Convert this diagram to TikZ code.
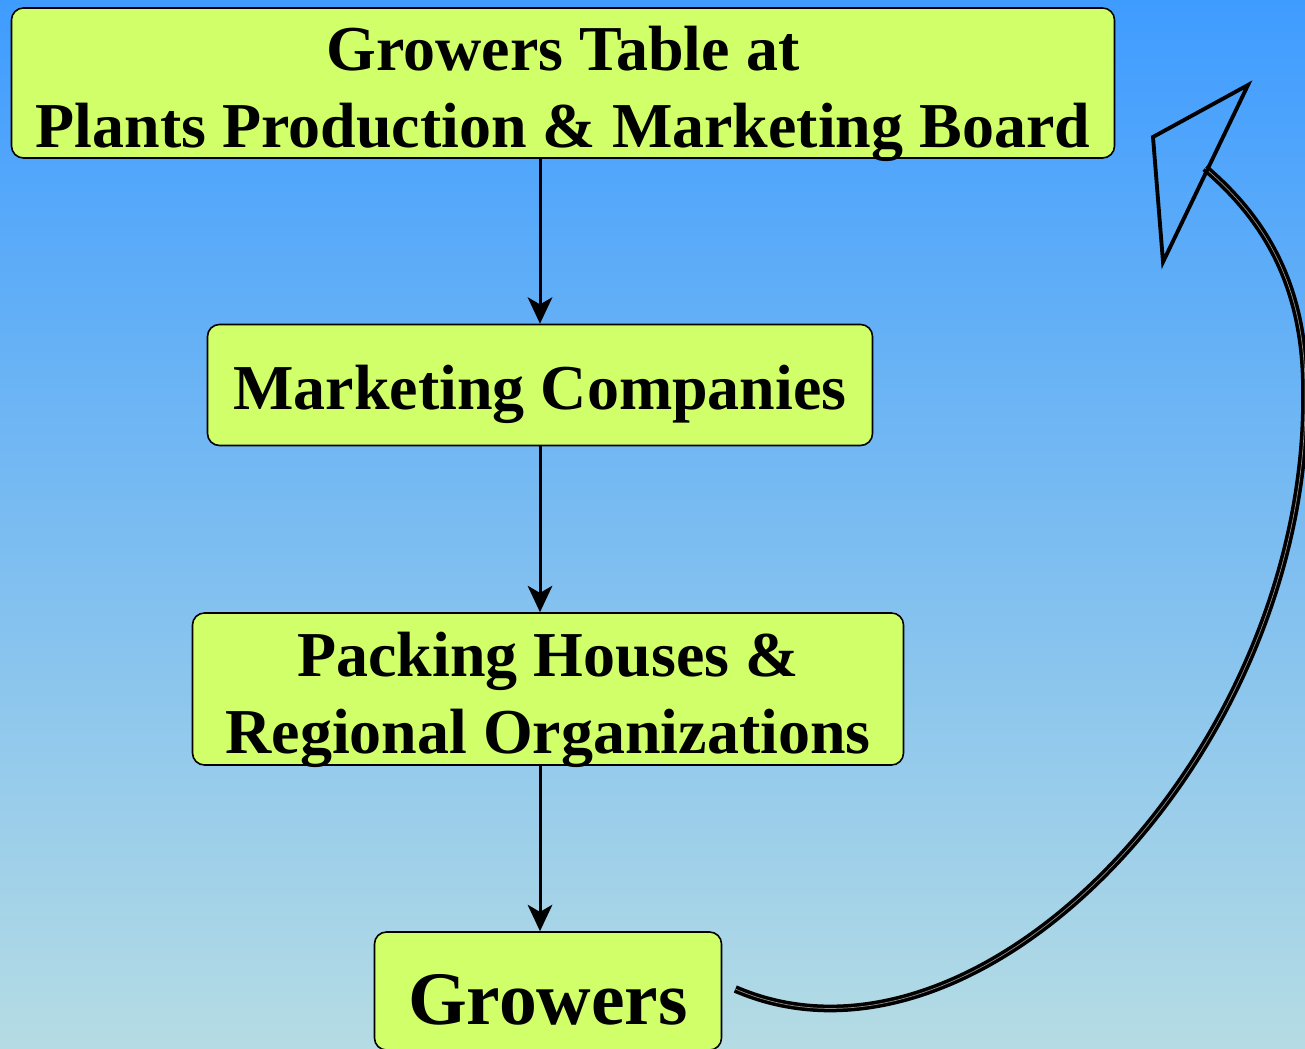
\documentclass[tikz,border=0pt]{standalone}
\usepackage{fontspec}
\setmainfont{Liberation Serif}
\usepackage{tikz}
\usetikzlibrary{arrows.meta, shapes.geometric}
\definecolor{bgTop}{RGB}{63,156,255}
\definecolor{bgBottom}{RGB}{181,220,228}
\definecolor{boxLime}{RGB}{208,255,106}
\newcommand{\gLift}{\rule{0pt}{15pt}}
\tikzstyle{gBox} = [rectangle, rounded corners=3.4pt, draw=black, line width=0.45pt, fill=boxLime, text centered, inner sep=0pt, font=\bfseries\fontsize{18.2}{21.9}\selectfont, align=center]
\tikzstyle{gArrow} = [line width=0.85pt, -{Stealth[length=7.5pt, width=7pt, inset=2pt]}]
\tikzstyle{gLoop} = [line width=1pt, double=black!45, double distance=0.2pt]
\tikzstyle{gHead} = [line width=1.1pt, line join=miter]

\begin{document}
\begin{tikzpicture}[node distance=3.02cm]
    \useasboundingbox (0,0) rectangle (13.05,-10.49);
    \fill[top color=bgTop, bottom color=bgBottom] (0,0) rectangle (13.05,-10.49);

    \node (board) [gBox, minimum width=11.03cm, minimum height=1.5cm, text depth=0pt] at (5.63,-0.83) {\gLift Growers Table at\\Plants Production \& Marketing Board};
    \node (market) [gBox, below of=board, xshift=-0.23cm, minimum width=6.65cm, minimum height=1.21cm, text height=18pt, text depth=4pt] {Marketing Companies};
    \node (packing) [gBox, below of=market, xshift=0.08cm, yshift=-0.02cm, minimum width=7.11cm, minimum height=1.52cm, text depth=0pt] {\gLift Packing Houses \&\\Regional Organizations};
    \node (growers) [gBox, below of=packing, minimum width=3.47cm, minimum height=1.18cm, text height=21pt, text depth=2pt, font=\bfseries\fontsize{21.5}{25}\selectfont] {Growers};

    \draw [gArrow] (board.south -| market.north) -- (market.north);
    \draw [gArrow] (market.south) -- (market.south |- packing.north);
    \draw [gArrow] (packing.south -| market.south) -- (growers.north -| market.south);

    % loop back to the board
    \coordinate (loopStart) at ([xshift=0.13cm, yshift=0.02cm]growers.east);
    \coordinate (loopEnd) at (12.05,-1.68);
    \coordinate (headTip) at (12.48,-0.85);
    \coordinate (headLeft) at (11.53,-1.37);
    \coordinate (headRight) at (11.63,-2.62);
    \draw [gLoop] (loopStart) .. controls (9.8,-10.95) and (13.1,-7.5) .. (13.05,-3.9)
        .. controls (13.05,-2.8) and (12.6,-2.15) .. (loopEnd);
    \draw [gHead] (headTip) -- (headLeft) -- (headRight) -- cycle;
\end{tikzpicture}
\end{document}
